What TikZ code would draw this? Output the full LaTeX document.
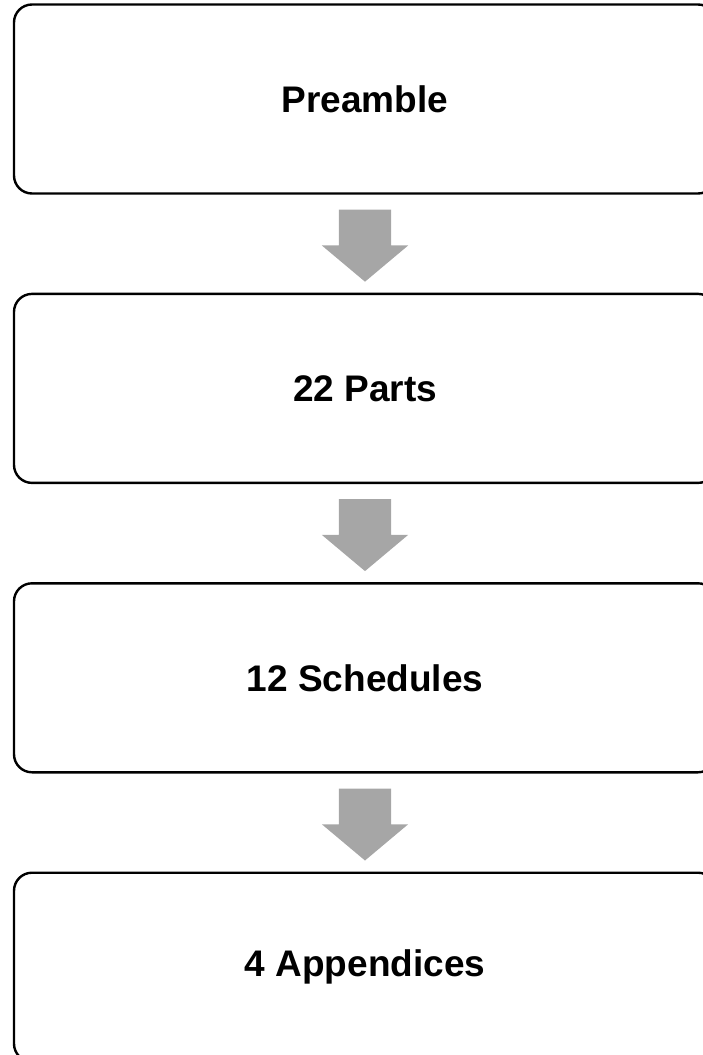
\documentclass[tikz,border=0pt]{standalone}
\usepackage{fontspec}
\setmainfont{Liberation Sans}
\usetikzlibrary{positioning,calc,shapes.arrows}
\begin{document}
\begin{tikzpicture}
            [part/.style = {draw, line width=2.4pt, rounded corners=18pt,
                            minimum width=702pt, minimum height=189pt,
                            font=\bfseries\fontsize{37}{44}\selectfont},
             down/.style = {single arrow, fill=black!35, draw=none, rotate=-90,
                            inner xsep=0pt, inner ysep=26pt, text height=0pt, text depth=0pt,
                            minimum height=72pt, single arrow head extend=17pt,
                            single arrow tip angle=100, xshift=-9pt},
             node distance = 98pt]
            \useasboundingbox (0,0) rectangle (703pt,-1055pt);
            \node[part] (pre) at (365pt,-99pt) {Preamble};
            \node[part] (parts) [below=of pre] {22 Parts};
            \node[part] (sched) [below=of parts] {12 Schedules};
            \node[part] (app) [below=of sched] {4 Appendices};
            \node[down] (a1) at ($(pre.south)!0.5!(parts.north)$) {};
            \node[down] (a2) at ($(parts.south)!0.5!(sched.north)$) {};
            \node[down] (a3) at ($(sched.south)!0.5!(app.north)$) {};
        \end{tikzpicture}
\end{document}
